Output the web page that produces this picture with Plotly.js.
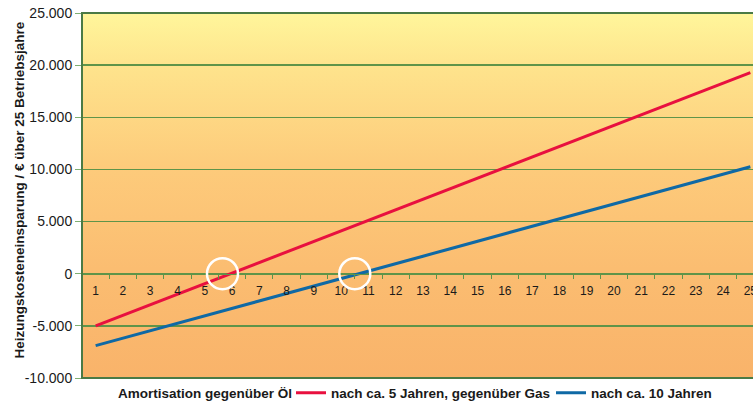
<!DOCTYPE html>
<html>
<head>
<meta charset="utf-8">
<script src="https://cdn.plot.ly/plotly-3.0.1.min.js"></script>
<style>
html, body { margin: 0; padding: 0; overflow: hidden; background: #ffffff; width: 753px; height: 401px; }
#chart { width: 800px; height: 401px; }
</style>
</head>
<body>
<div id="chart"></div>
<script>
// Years of operation (categories)
const years = ['1','2','3','4','5','6','7','8','9','10','11','12','13','14','15','16','17','18','19','20','21','22','23','24','25'];
// Cumulative heating cost savings vs. oil (EUR)
const savingsOil = [-5000, -3990, -2980, -1960, -950, 60, 1070, 2080, 3100, 4110, 5120, 6130, 7140, 8160, 9170, 10180, 11190, 12200, 13220, 14230, 15240, 16250, 17260, 18280, 19290];
// Cumulative heating cost savings vs. gas (EUR)
const savingsGas = [-6900, -6190, -5470, -4760, -4040, -3330, -2610, -1900, -1180, -470, 250, 970, 1680, 2400, 3110, 3830, 4540, 5260, 5970, 6690, 7400, 8120, 8830, 9550, 10260];
// Approximate break-even years (highlighted by circles)
const breakEven = [5.65, 10.5];
// Y tick values and labels
const yTickVals = [-10000, -5000, 0, 5000, 10000, 15000, 20000, 25000];
const yTickText = ['-10.000', '-5.000', '0', '5.000', '10.000', '15.000', '20.000', '25.000'];
const yTitle = 'Heizungskosteneinsparung / € über 25 Betriebsjahre';
const legendTitle = 'Amortisation gegenüber Öl';
const seriesNames = ['nach ca. 5 Jahren, gegenüber Gas', 'nach ca. 10 Jahren'];

const yMin = -10000, yMax = 25000;
const gridGreen = '#5F9449';
const frameGreen = '#4A7A45';
const fontFam = 'Liberation Sans, Arial, sans-serif';

const svgGrad = '<svg xmlns="http://www.w3.org/2000/svg" width="100" height="100" preserveAspectRatio="none">' +
  '<defs><linearGradient id="g" x1="0" y1="0" x2="0" y2="1">' +
  '<stop offset="0" stop-color="#FFF69B"/>' +
  '<stop offset="0.15" stop-color="#FEE38C"/>' +
  '<stop offset="0.42" stop-color="#FDCB7B"/>' +
  '<stop offset="0.7" stop-color="#FBBD71"/>' +
  '<stop offset="1" stop-color="#F9B36A"/>' +
  '</linearGradient></defs><rect width="100" height="100" fill="url(#g)"/></svg>';

const traces = [
  {
    x: years, y: savingsOil, type: 'scatter', mode: 'lines',
    name: '<b>' + seriesNames[0] + '</b>',
    line: { color: '#E8103F', width: 3 },
    hoverinfo: 'x+y'
  },
  {
    x: years, y: savingsGas, type: 'scatter', mode: 'lines',
    name: '<b>' + seriesNames[1] + '</b>',
    line: { color: '#0F69A5', width: 3 },
    hoverinfo: 'x+y'
  }
];

const shapes = breakEven.map(v => ({
  type: 'circle', xref: 'x', yref: 'y',
  xsizemode: 'pixel', ysizemode: 'pixel',
  xanchor: v - 1, yanchor: 0,
  x0: -15.5, x1: 15.5, y0: -15.5, y1: 15.5,
  line: { color: '#ffffff', width: 2.5 },
  layer: 'above'
}));
shapes.push({
  type: 'rect', xref: 'paper', yref: 'paper', x0: 0, x1: 1, y0: 0, y1: 1,
  line: { color: frameGreen, width: 2 }, layer: 'above'
});

const layout = {
  width: 800, height: 401,
  margin: { l: 82, r: 36, t: 13, b: 23, autoexpand: false },
  paper_bgcolor: '#ffffff',
  plot_bgcolor: 'rgba(0,0,0,0)',
  font: { family: fontFam, color: '#1a1a1a' },
  images: [{
    source: 'data:image/svg+xml;charset=utf-8,' + encodeURIComponent(svgGrad),
    xref: 'paper', yref: 'paper', x: 0, y: 1, sizex: 1, sizey: 1,
    xanchor: 'left', yanchor: 'top', sizing: 'stretch', layer: 'below'
  }],
  xaxis: {
    type: 'category',
    range: [-0.5, 24.5],
    anchor: 'free',
    position: (0 - yMin) / (yMax - yMin),
    showline: true, linecolor: gridGreen, linewidth: 1.5,
    showgrid: false, zeroline: false,
    ticks: 'outside', tickson: 'boundaries', ticklen: 4, tickwidth: 1, tickcolor: gridGreen,
    ticklabelstandoff: 5,
    tickfont: { size: 12, color: '#1a1a1a', family: fontFam },
    automargin: false,
    fixedrange: true
  },
  yaxis: {
    range: [yMin, yMax],
    tickvals: yTickVals, ticktext: yTickText,
    showgrid: true, gridcolor: gridGreen, gridwidth: 1.5,
    zeroline: false, showline: false,
    ticks: 'outside', ticklen: 6, tickwidth: 1, tickcolor: '#7FAF72',
    tickfont: { size: 14, color: '#1a1a1a', family: fontFam },
    automargin: false,
    fixedrange: true
  },
  annotations: [
    {
      text: '<b>' + yTitle + '</b>', textangle: -90,
      xref: 'paper', yref: 'paper', x: 0, y: 0.5, xshift: -63, yshift: 5,
      xanchor: 'center', yanchor: 'middle', showarrow: false,
      font: { size: 13.5, color: '#1a1a1a', family: fontFam }
    },
    {
      text: '<b>' + legendTitle + '</b>',
      xref: 'paper', yref: 'paper', x: 0, y: 0, xshift: 34, yshift: -15,
      xanchor: 'left', yanchor: 'middle', showarrow: false,
      font: { size: 13.5, color: '#1a1a1a', family: fontFam }
    }
  ],
  showlegend: true,
  legend: {
    orientation: 'h',
    xref: 'container', yref: 'container',
    x: 291 / 800, xanchor: 'left',
    y: 8 / 401, yanchor: 'middle',
    entrywidth: 215, entrywidthmode: 'pixels',
    bgcolor: 'rgba(0,0,0,0)',
    font: { size: 13.5, color: '#1a1a1a', family: fontFam },
    itemclick: false, itemdoubleclick: false
  },
  shapes: shapes
};

Plotly.newPlot('chart', traces, layout, { displayModeBar: false, staticPlot: true });
</script>
</body>
</html>
